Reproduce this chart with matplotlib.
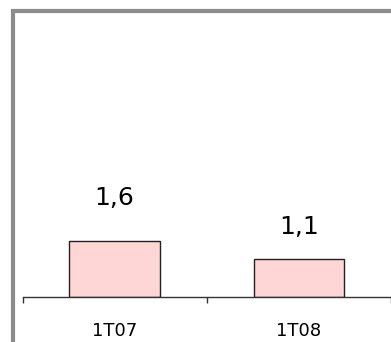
import matplotlib.pyplot as plt
from matplotlib.patches import Rectangle

# Данные
categories = ['1T07', '1T08']
values = [1.6, 1.1]
labels = ['1,6', '1,1']

# Смещение подписей над столбцами (в точках)
label_offsets = [31, 23]

W, H = 391, 342
fig = plt.figure(figsize=(W / 100, H / 100), dpi=100)

# Серая рамка диаграммы (выходит за край картинки)
fig.patches.append(Rectangle((13 / W, -0.2), 1.2, 1 - 11 / H + 0.2,
                             transform=fig.transFigure, fill=False,
                             edgecolor='#8c8c8c', linewidth=3, zorder=0))

px = 187  # пикселей на категорию
left = 22.5
ax = fig.add_axes([left / W, 1 - 297 / H, (W - left) / W, (297 - 14) / H])
x = list(range(len(categories)))
ax.bar(x, values, width=92 / px, color='#ffd6d6', edgecolor='#222222', linewidth=1)

for xi, v, lab, off in zip(x, values, labels, label_offsets):
    ax.annotate(lab, (xi, v), xytext=(0, off), textcoords='offset points',
                ha='center', va='center', fontsize=18, color='black')

ax.set_xlim(-0.5, (W - left) / px - 0.5)
ax.set_ylim(0, 283 / 35)

for s in ['top', 'right', 'left']:
    ax.spines[s].set_visible(False)
ax.spines['bottom'].set_color('#333333')
ax.spines['bottom'].set_linewidth(1)
ax.set_yticks([])

# Засечки на границах категорий, подписи по центру
ax.set_xticks([-0.5, 0.5, 1.5])
ax.set_xticklabels([])
ax.tick_params(axis='x', which='major', direction='out', length=4.5, width=1, color='#333333')
ax.set_xticks(x, minor=True)
ax.set_xticklabels(categories, minor=True)
ax.tick_params(axis='x', which='minor', length=0, pad=18, labelsize=13)

fig.savefig('out.png', dpi=100)
